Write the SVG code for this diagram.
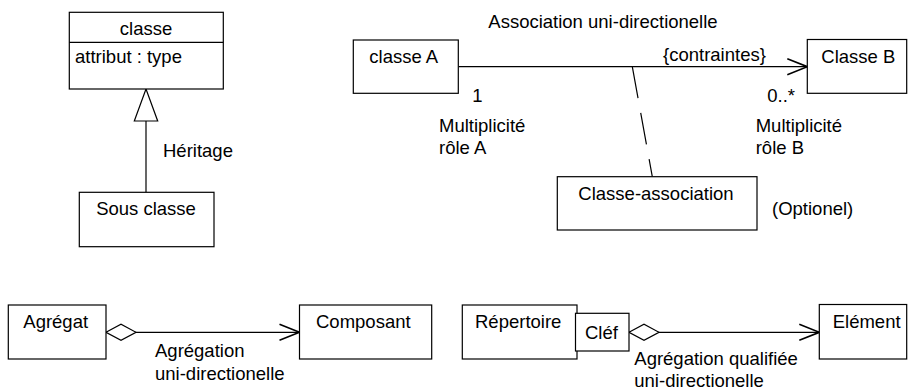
<svg xmlns="http://www.w3.org/2000/svg" width="908" height="392" viewBox="0 0 908 392">
<style>
text{font-family:"Liberation Sans",Arial,Helvetica,sans-serif;font-size:18.5px;fill:#000}
.box{fill:#fff;stroke:#000;stroke-width:1.2}
.ln{fill:none;stroke:#000;stroke-width:1.2}
.dash{fill:none;stroke:#000;stroke-width:1.2;stroke-dasharray:32 15}
.mid{text-anchor:middle}
</style>
<defs>
<marker id="open" markerUnits="userSpaceOnUse" viewBox="-1 -1 22 19" refX="20" refY="8.5" markerWidth="22" markerHeight="19" orient="auto">
<path d="M0,0.5 L20,8.5 L0,16.5" fill="none" stroke="#000" stroke-width="1.6"/>
</marker>
<marker id="tri" markerUnits="userSpaceOnUse" viewBox="-1 -1 34 26" refX="32" refY="12" markerWidth="34" markerHeight="26" orient="auto">
<path d="M0,0.3 L32,12 L0,23.7 Z" fill="#fff" stroke="#000" stroke-width="1.2"/>
</marker>
<marker id="dia" markerUnits="userSpaceOnUse" viewBox="-1 -1 32 19" refX="0" refY="8.5" markerWidth="32" markerHeight="19" orient="auto">
<path d="M0,8.5 L15,0.5 L30,8.5 L15,16.5 Z" fill="#fff" stroke="#000" stroke-width="1.2"/>
</marker>
</defs>

<g id="connectors">
<line class="ln" x1="146" y1="192.5" x2="146" y2="89" marker-end="url(#tri)"/>
<line class="ln" x1="458.5" y1="66.7" x2="807.3" y2="66.7" marker-end="url(#open)"/>
<line class="dash" x1="632.3" y1="66.7" x2="652.3" y2="176.7"/>
<line class="ln" x1="106" y1="332.3" x2="299.5" y2="332.3" marker-start="url(#dia)" marker-end="url(#open)"/>
<line class="ln" x1="629" y1="332.3" x2="819.3" y2="332.3" marker-start="url(#dia)" marker-end="url(#open)"/>
</g>

<g id="classe">
<rect class="box" x="69.3" y="12.3" width="154" height="76.7"/>
<line class="ln" x1="69.3" y1="42.3" x2="223.3" y2="42.3"/>
<text class="mid" x="146" y="35">classe</text>
<text x="75" y="63">attribut : type</text>
</g>
<g id="sous-classe">
<rect class="box" x="79.3" y="192.3" width="134.7" height="54.4"/>
<text class="mid" x="146" y="215">Sous classe</text>
</g>
<text x="163" y="156.7">Héritage</text>

<text x="488.3" y="28.3">Association uni-directionelle</text>
<g id="classe-a">
<rect class="box" x="353.3" y="40" width="105" height="53.3"/>
<text x="369.3" y="63.3">classe A</text>
</g>
<g id="classe-b">
<rect class="box" x="807.3" y="39.5" width="99.4" height="53.8"/>
<text x="821.3" y="63.3">Classe B</text>
</g>
<text x="663" y="61">{contraintes}</text>
<text x="472.3" y="102.3">1</text>
<text x="767.3" y="101.7">0..*</text>
<text x="439" y="131.7">Multiplicité</text>
<text x="439" y="154">rôle A</text>
<text x="755.7" y="131.7">Multiplicité</text>
<text x="755.7" y="153.5">rôle B</text>
<g id="classe-association">
<rect class="box" x="557.3" y="176.7" width="199.7" height="53.3"/>
<text class="mid" x="656" y="200">Classe-association</text>
</g>
<text x="772" y="215">(Optionel)</text>

<g id="agregat">
<rect class="box" x="8.3" y="305" width="97.7" height="54"/>
<text x="23.3" y="328.3">Agrégat</text>
</g>
<g id="composant">
<rect class="box" x="299.5" y="305" width="132.2" height="54"/>
<text x="316" y="328">Composant</text>
</g>
<text x="155" y="357.3">Agrégation</text>
<text x="155" y="380">uni-directionelle</text>

<g id="repertoire">
<rect class="box" x="462.3" y="305" width="114.7" height="54"/>
<text x="475" y="328.3">Répertoire</text>
</g>
<g id="clef">
<rect class="box" x="575.5" y="313.3" width="53.5" height="37.7"/>
<text x="585" y="339.3">Cléf</text>
</g>
<g id="element">
<rect class="box" x="819.3" y="304.5" width="87.4" height="54.5"/>
<text x="832.7" y="328">Elément</text>
</g>
<text x="634.3" y="365">Agrégation qualifiée</text>
<text x="634.3" y="386.7">uni-directionelle</text>
</svg>
